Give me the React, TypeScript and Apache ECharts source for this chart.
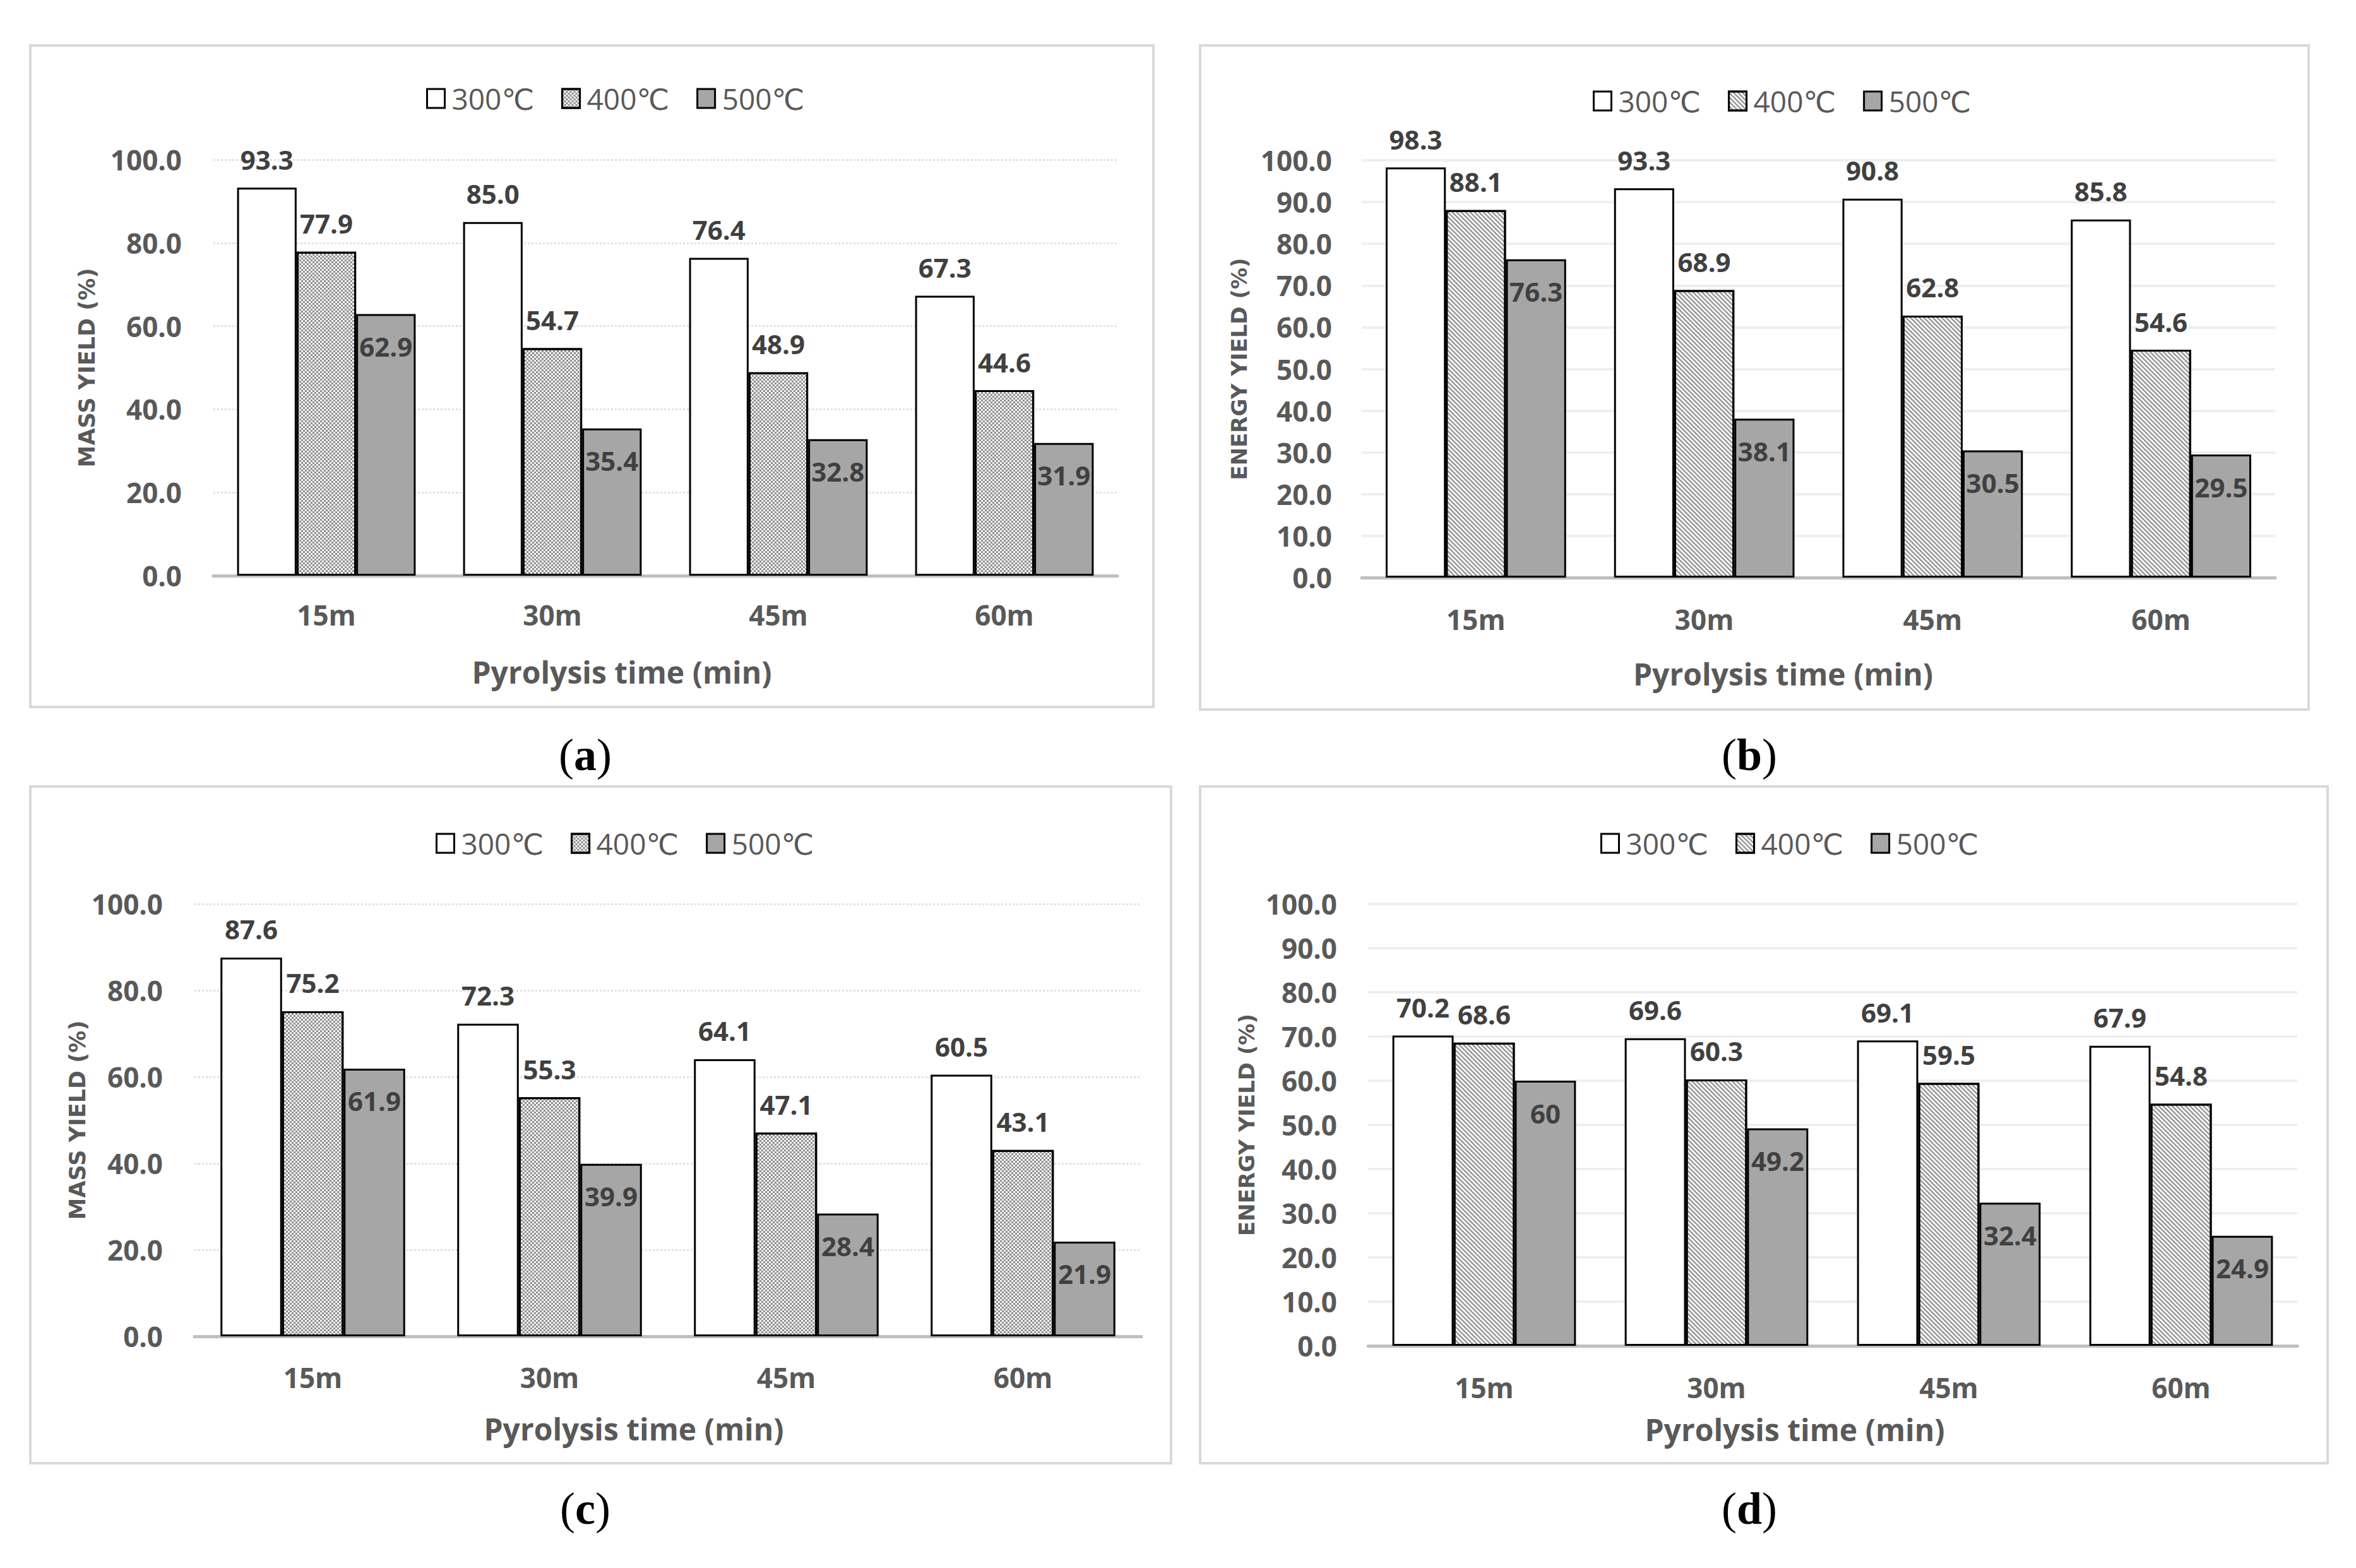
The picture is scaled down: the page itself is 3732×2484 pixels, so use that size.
import React, { useEffect, useRef } from "react";
import * as echarts from "echarts";

// ---------- data ----------
const categories = ["15m", "30m", "45m", "60m"];
const tempNames = ["300℃", "400℃", "500℃"];

const massA300 = [93.3, 85.0, 76.4, 67.3];
const massA400 = [77.9, 54.7, 48.9, 44.6];
const massA500 = [62.9, 35.4, 32.8, 31.9];

const energyB300 = [98.3, 93.3, 90.8, 85.8];
const energyB400 = [88.1, 68.9, 62.8, 54.6];
const energyB500 = [76.3, 38.1, 30.5, 29.5];

const massC300 = [87.6, 72.3, 64.1, 60.5];
const massC400 = [75.2, 55.3, 47.1, 43.1];
const massC500 = [61.9, 39.9, 28.4, 21.9];

const energyD300 = [70.2, 69.6, 69.1, 67.9];
const energyD400 = [68.6, 60.3, 59.5, 54.8];
const energyD500 = [60, 49.2, 32.4, 24.9];

const xAxisTitle = "Pyrolysis time (min)";
const massTitle = "MASS YIELD (%)";
const energyTitle = "ENERGY YIELD (%)";
const captions = ["a", "b", "c", "d"];

// ---------- layout / style ----------
const SANS = "'Open Sans', 'DejaVu Sans', sans-serif";
const GRAY = "#595959";
const DARK = "#404040";

const dotDecal = {
  symbol: "rect",
  symbolSize: 1,
  color: "rgba(40,40,40,0.5)",
  dashArrayX: [
    [3, 3],
    [0, 3, 3, 0],
  ],
  dashArrayY: [3, 0],
  rotation: 0,
};
const lineDecal = {
  symbol: "rect",
  symbolSize: 1,
  color: "rgba(50,50,50,0.55)",
  dashArrayX: [1, 0],
  dashArrayY: [2, 3],
  rotation: Math.PI / 4,
};

type Panel = {
  data: number[][];
  yName: string;
  yBold: boolean;
  interval: number;
  grid: { left: number; top: number; width: number; height: number };
  gap: string;
  decal: any;
  gridDotted: boolean;
  legendLeft: number;
  legendTop: number;
  xLabelMargin: number;
  xNameGap: number;
  xNameShift: number;
  yNameGap: number;
  yLabelMargin: number;
  border: { x: number; y: number; w: number; h: number };
  cap: { x: number; y: number };
  plain500: boolean;
};

const panels: Panel[] = [
  {
    data: [massA300, massA400, massA500],
    yName: massTitle,
    yBold: true,
    interval: 20,
    grid: { left: 338, top: 253, width: 1432, height: 659 },
    gap: "21%",
    decal: dotDecal,
    gridDotted: true,
    legendLeft: 670,
    legendTop: 128,
    xLabelMargin: 40,
    xNameGap: 128,
    xNameShift: 69,
    yNameGap: 183,
    yLabelMargin: 50,
    border: { x: 48, y: 72, w: 1779, h: 1048 },
    cap: { x: 927, y: 1196 },
    plain500: false,
  },
  {
    data: [energyB300, energyB400, energyB500],
    yName: energyTitle,
    yBold: false,
    interval: 10,
    grid: { left: 2157, top: 254, width: 1447, height: 661 },
    gap: "21%",
    decal: lineDecal,
    gridDotted: false,
    legendLeft: 2518,
    legendTop: 132,
    xLabelMargin: 44,
    xNameGap: 128,
    xNameShift: 56,
    yNameGap: 177,
    yLabelMargin: 47,
    border: { x: 1901, y: 72, w: 1756, h: 1052 },
    cap: { x: 2771, y: 1196 },
    plain500: false,
  },
  {
    data: [massC300, massC400, massC500],
    yName: massTitle,
    yBold: true,
    interval: 20,
    grid: { left: 308, top: 1432, width: 1500, height: 685 },
    gap: "22%",
    decal: dotDecal,
    gridDotted: true,
    legendLeft: 685,
    legendTop: 1308,
    xLabelMargin: 43,
    xNameGap: 122,
    xNameShift: 54,
    yNameGap: 168,
    yLabelMargin: 50,
    border: { x: 48, y: 1246, w: 1807, h: 1072 },
    cap: { x: 927, y: 2390 },
    plain500: false,
  },
  {
    data: [energyD300, energyD400, energyD500],
    yName: energyTitle,
    yBold: false,
    interval: 10,
    grid: { left: 2167, top: 1432, width: 1472, height: 700 },
    gap: "21%",
    decal: lineDecal,
    gridDotted: false,
    legendLeft: 2530,
    legendTop: 1308,
    xLabelMargin: 44,
    xNameGap: 108,
    xNameShift: 60,
    yNameGap: 175,
    yLabelMargin: 49,
    border: { x: 1901, y: 1246, w: 1786, h: 1072 },
    cap: { x: 2771, y: 2390 },
    plain500: true,
  },
];

function buildOption() {
  const grids: any[] = [];
  const xAxes: any[] = [];
  const yAxes: any[] = [];
  const series: any[] = [];
  const legends: any[] = [];
  const graphics: any[] = [];

  panels.forEach((p, i) => {
    grids.push({ ...p.grid, containLabel: false });
    xAxes.push({
      type: "category",
      gridIndex: i,
      data: categories,
      axisLine: { lineStyle: { color: "#bfbfbf", width: 5 } },
      axisTick: { show: false },
      axisLabel: {
        margin: p.xLabelMargin,
        fontSize: 44,
        fontWeight: "bold",
        color: GRAY,
        fontFamily: SANS,
      },
      name: xAxisTitle,
      nameLocation: "middle",
      nameGap: p.xNameGap,
      nameTextStyle: {
        fontSize: 48,
        fontWeight: "bold",
        color: GRAY,
        fontFamily: SANS,
        padding: [0, p.xNameShift * 2, 0, 0],
      },
    });
    yAxes.push({
      type: "value",
      gridIndex: i,
      min: 0,
      max: 100,
      interval: p.interval,
      axisLine: { show: false },
      axisTick: { show: false },
      splitLine: {
        lineStyle: p.gridDotted
          ? { color: "#e6dfdf", width: 3, type: "dotted" }
          : { color: "#efefef", width: 4 },
      },
      axisLabel: {
        formatter: (v: number) => v.toFixed(1),
        margin: p.yLabelMargin,
        fontSize: 44,
        fontWeight: "bold",
        color: GRAY,
        fontFamily: SANS,
      },
      name: p.yName,
      nameLocation: "middle",
      nameRotate: 90,
      nameGap: p.yNameGap,
      nameTextStyle: {
        fontSize: p.yBold ? 35 : 34,
        fontWeight: "bold",
        color: GRAY,
        fontFamily: "'DejaVu Sans', sans-serif",
      },
    });

    const fills = ["#ffffff", "#f6f6f6", "#a6a6a6"];
    const names = tempNames.map((n) => n + "|" + i);
    p.data.forEach((vals, s) => {
      const inside = s === 2;
      series.push({
        type: "bar",
        name: names[s],
        xAxisIndex: i,
        yAxisIndex: i,
        data: vals,
        barGap: "0%",
        barCategoryGap: p.gap,
        itemStyle: {
          color: fills[s],
          borderColor: "#000",
          borderWidth: 3,
          decal: s === 1 ? p.decal : "none",
        },
        label: {
          show: true,
          position: inside ? "insideTop" : "top",
          distance: inside ? 30 : 24,
          formatter: (prm: any) =>
            inside && p.plain500 ? String(prm.value) : Number(prm.value).toFixed(1),
          fontSize: 42,
          fontWeight: "bold",
          color: DARK,
          fontFamily: SANS,
        },
      });
    });

    legends.push({
      data: names,
      left: p.legendLeft,
      top: p.legendTop,
      orient: "horizontal",
      icon: "rect",
      itemWidth: 28,
      itemHeight: 30,
      itemGap: 43,
      selectedMode: false,
      formatter: (n: string) => n.split("|")[0],
      itemStyle: { borderColor: "#000", borderWidth: 3 },
      textStyle: {
        fontSize: 46,
        color: GRAY,
        fontFamily: SANS,
        padding: [10, 0, 0, 6],
      },
    });

    graphics.push({
      type: "rect",
      shape: { x: p.border.x, y: p.border.y, width: p.border.w, height: p.border.h },
      style: { fill: "none", stroke: "#d9d9d9", lineWidth: 4 },
      z: -1,
    });
    graphics.push({
      type: "text",
      x: p.cap.x,
      y: p.cap.y,
      style: {
        text: "({b|" + captions[i] + "})",
        rich: { b: { fontWeight: "bold", fontSize: 72, fontFamily: "'Liberation Serif', serif", fill: "#000" } },
        fontSize: 72,
        fontFamily: "'Liberation Serif', serif",
        fill: "#000",
        align: "center",
        verticalAlign: "middle",
      },
    });
  });

  return {
    animation: false,
    backgroundColor: "#ffffff",
    grid: grids,
    xAxis: xAxes,
    yAxis: yAxes,
    series,
    legend: legends,
    graphic: graphics,
  };
}

export default function App() {
  const ref = useRef<HTMLDivElement>(null);
  useEffect(() => {
    if (!ref.current) return;
    const chart = echarts.init(ref.current, null, { renderer: "svg" });
    chart.setOption(buildOption() as any);
    return () => chart.dispose();
  }, []);
  return (
    <div
      ref={ref}
      style={{ position: "absolute", left: 0, top: 0, width: 3732, height: 2484, background: "#fff" }}
    />
  );
}
